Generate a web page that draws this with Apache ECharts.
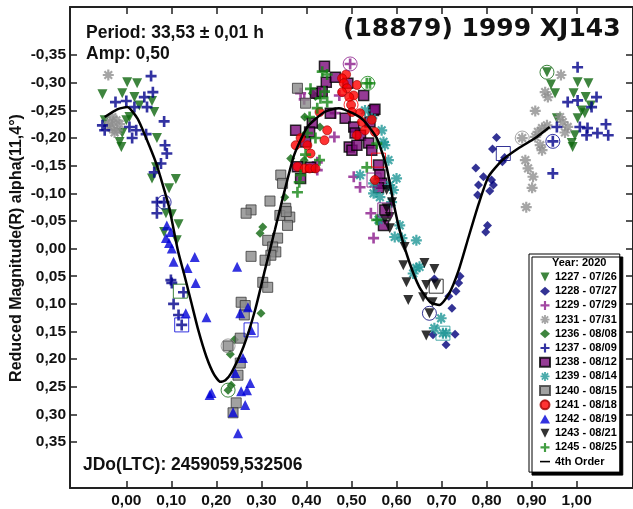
<!DOCTYPE html>
<html>
<head>
<meta charset="utf-8">
<title>(18879) 1999 XJ143</title>
<script src="https://cdn.jsdelivr.net/npm/echarts@6/dist/echarts.min.js"></script>
<style>
html,body{margin:0;padding:0;background:#fff;}
#chart{width:633px;height:509px;}
</style>
</head>
<body>
<div id="chart"></div>
<script>
// phase, reduced magnitude
var s1227 = [[-0.053,-0.279],[0.002,-0.301],[0.024,-0.299],[-0.009,-0.281],[0.018,-0.274],[0.029,-0.259],[0.057,-0.267],[0.062,-0.247],[0.007,-0.238],[0.0,-0.232],[-0.048,-0.232],[-0.009,-0.209],[-0.015,-0.193],[-0.011,-0.184],[0.068,-0.2],[0.066,-0.147],[0.057,-0.127],[0.11,-0.126],[0.095,-0.109],[0.088,-0.064],[0.101,-0.062],[0.116,-0.044],[0.084,-0.03],[0.112,-0.015],
  [0.934,-0.319],[0.943,-0.297],[0.952,-0.281],[1.002,-0.301],[1.026,-0.299],[0.993,-0.281],[1.02,-0.274],[1.031,-0.259],[1.011,-0.25],[1.018,-0.245],[1.002,-0.236],[0.956,-0.236],[0.996,-0.205],[0.989,-0.191],[0.991,-0.184]];
var s1228 = [[0.822,-0.201],[0.813,-0.18],[0.84,-0.165],[0.835,-0.157],[0.776,-0.146],[0.793,-0.13],[0.811,-0.124],[0.782,-0.115],[0.815,-0.115],[0.807,-0.104],[0.78,-0.097],[0.802,-0.042],[0.798,-0.03],[0.741,0.05],[0.684,0.055],[0.738,0.062],[0.732,0.077],[0.716,0.086],[0.723,0.108],[0.73,0.155],[0.71,0.174],[0.681,0.156]];
var s1229 = [[0.387,-0.281],[0.497,-0.334],[0.464,-0.245],[0.473,-0.277],[0.462,-0.202],[0.424,-0.156],[0.424,-0.142],[0.505,-0.13],[0.519,-0.111],[0.549,-0.019],[0.543,-0.064],[0.395,-0.27]];
var s1231 = [[-0.04,-0.314],[-0.031,-0.238],[-0.037,-0.229],[-0.022,-0.232],[-0.031,-0.218],[-0.02,-0.214],[-0.04,-0.222],[-0.026,-0.21],[-0.015,-0.225],
  [0.965,-0.314],[0.93,-0.283],[0.936,-0.274],[0.908,-0.249],[0.934,-0.223],[0.923,-0.218],[0.914,-0.211],[0.908,-0.202],[0.879,-0.2],[0.919,-0.187],[0.923,-0.178],[0.963,-0.238],[0.969,-0.229],[0.98,-0.22],[0.974,-0.21],[0.886,-0.16],[0.892,-0.145],[0.903,-0.13],[0.901,-0.11],[0.888,-0.075]];
var s1236 = [[0.297,-0.028],[0.303,-0.039],[0.352,-0.093],[0.365,-0.163],[0.413,-0.281],[0.396,-0.238],[0.299,0.117],[0.24,0.165],[0.231,0.191],[0.233,0.247],[0.226,0.256],[0.42,-0.275],[0.43,-0.22],[0.395,-0.16]];
var s1237 = [[0.055,-0.312],[0.059,-0.283],[0.04,-0.274],[-0.024,-0.265],[0.0,-0.267],[0.018,-0.256],[0.046,-0.256],[0.084,-0.23],[-0.053,-0.223],[-0.048,-0.214],[0.007,-0.22],[0.022,-0.214],[0.013,-0.2],[0.044,-0.207],[0.086,-0.187],[0.09,-0.172],[0.077,-0.154],[0.062,-0.138],[0.068,-0.084],[0.084,-0.084],[0.068,-0.064],[0.099,0.057],[0.101,0.062],[0.127,0.079],[0.105,0.1],[0.116,0.12],[0.123,0.138],
  [1.002,-0.328],[0.98,-0.265],[1.002,-0.268],[1.044,-0.274],[1.033,-0.256],[0.956,-0.22],[1.007,-0.22],[1.024,-0.218],[1.046,-0.209],[1.022,-0.205],[0.947,-0.194],[0.947,-0.136],[1.07,-0.205],[1.065,-0.225]];
var s1238 = [[0.44,-0.33],[0.444,-0.301],[0.464,-0.31],[0.492,-0.299],[0.42,-0.281],[0.435,-0.284],[0.527,-0.277],[0.453,-0.245],[0.486,-0.236],[0.413,-0.227],[0.376,-0.214],[0.407,-0.211],[0.505,-0.22],[0.549,-0.25],[0.495,-0.184],[0.501,-0.178],[0.398,-0.193],[0.387,-0.127],[0.38,-0.148],[0.409,-0.147],[0.552,-0.252],[0.541,-0.229],[0.508,-0.209],[0.52,-0.205],[0.512,-0.187],[0.538,-0.191],[0.545,-0.178],[0.56,-0.151],[0.563,-0.133],[0.567,-0.118],[0.574,-0.07],[0.56,-0.11],[0.571,-0.042]];
var s1239 = [[0.53,-0.25],[0.545,-0.236],[0.567,-0.214],[0.571,-0.193],[0.582,-0.16],[0.519,-0.133],[0.549,-0.118],[0.549,-0.1],[0.563,-0.093],[0.593,-0.106],[0.6,-0.127],[0.589,-0.084],[0.56,-0.052],[0.607,-0.042],[0.596,-0.021],[0.644,-0.015],[0.574,-0.187],[0.585,-0.115],[0.612,-0.019],[0.644,0.035],[0.651,0.033],[0.637,0.045],[0.699,0.126],[0.684,0.144],[0.703,0.153],[0.71,0.153]];
var s1240 = [[0.277,-0.07],[0.266,-0.064],[0.319,-0.086],[0.354,-0.073],[0.341,-0.06],[0.363,-0.057],[0.358,-0.042],[0.355,-0.067],[0.277,0.014],[0.314,-0.015],[0.336,-0.019],[0.325,-0.003],[0.332,0.006],[0.321,0.012],[0.308,0.021],[0.303,0.061],[0.314,0.07],[0.255,0.097],[0.264,0.103],[0.262,0.12],[0.253,0.162],[0.226,0.176],[0.253,0.207],[0.248,0.229],[0.244,0.279],[0.237,0.297],[0.38,-0.29],[0.398,-0.263],[0.343,-0.133],[0.347,-0.118]];
var s1241 = [[0.488,-0.315],[0.479,-0.308],[0.483,-0.299],[0.512,-0.296],[0.49,-0.29],[0.479,-0.283],[0.505,-0.277],[0.495,-0.274],[0.499,-0.26],[0.501,-0.247],[0.519,-0.245],[0.429,-0.247],[0.523,-0.229],[0.446,-0.214],[0.387,-0.2],[0.44,-0.196],[0.376,-0.187],[0.402,-0.187],[0.409,-0.172],[0.38,-0.148],[0.396,-0.145],[0.407,-0.145],[0.42,-0.145],[0.512,-0.205],[0.53,-0.214],[0.545,-0.233],[0.552,-0.211],[0.552,-0.124]];
var s1242 = [[0.09,-0.042],[0.099,-0.03],[0.088,-0.019],[0.095,-0.01],[0.101,0.0],[0.105,0.024],[0.136,0.035],[0.152,0.015],[0.154,0.062],[0.132,0.117],[0.178,0.124],[0.246,0.033],[0.27,0.106],[0.253,0.117],[0.277,0.147],[0.259,0.198],[0.242,0.225],[0.189,0.261],[0.185,0.265],[0.255,0.258],[0.268,0.256],[0.275,0.243],[0.264,0.283],[0.237,0.296],[0.248,0.334]];
var s1243 = [[0.578,-0.106],[0.59,-0.084],[0.578,-0.073],[0.585,-0.057],[0.574,-0.052],[0.585,-0.037],[0.618,-0.003],[0.615,0.03],[0.662,0.026],[0.684,0.037],[0.622,0.061],[0.666,0.066],[0.688,0.066],[0.659,0.088],[0.68,0.097],[0.626,0.093],[0.673,0.117],[0.666,0.157]];
var s1245 = [[0.446,-0.315],[0.435,-0.32],[0.409,-0.289],[0.44,-0.284],[0.431,-0.272],[0.446,-0.265],[0.424,-0.254],[0.407,-0.238],[0.402,-0.209],[0.42,-0.2],[0.429,-0.16],[0.398,-0.17],[0.387,-0.133],[0.384,-0.12],[0.38,-0.102],[0.534,-0.299],[0.541,-0.299],[0.556,-0.19],[0.534,-0.147],[0.556,-0.052]];

// 4th order fit, traced
var curve4th = [[-0.048,-0.238],[-0.02,-0.252],[0.002,-0.256],[0.025,-0.235],[0.044,-0.2],[0.066,-0.155],[0.08,-0.118],[0.095,-0.075],[0.105,-0.035],[0.115,0.005],[0.128,0.045],[0.143,0.093],[0.16,0.148],[0.178,0.196],[0.195,0.228],[0.209,0.241],[0.22,0.238],[0.233,0.225],[0.26,0.178],[0.286,0.111],[0.308,0.038],[0.33,-0.034],[0.35,-0.1],[0.373,-0.17],[0.402,-0.22],[0.44,-0.247],[0.472,-0.254],[0.505,-0.244],[0.527,-0.232],[0.556,-0.2],[0.578,-0.147],[0.592,-0.088],[0.607,-0.033],[0.629,0.026],[0.651,0.07],[0.675,0.097],[0.695,0.102],[0.717,0.081],[0.738,0.039],[0.76,-0.021],[0.782,-0.08],[0.804,-0.13],[0.835,-0.16],[0.87,-0.181],[0.908,-0.2],[0.94,-0.22]];

// open markers drawn round single points
var circleRings = [[0.084,-0.084,'1237'],[0.226,0.176,'1240'],[0.226,0.256,'1236'],[0.497,-0.334,'1229'],[0.536,-0.299,'1245'],[0.499,-0.26,'1241'],[0.673,0.117,'1228'],[0.879,-0.2,'1231'],[0.947,-0.194,'1237'],[0.934,-0.319,'1227']];
var squareRings = [[0.12,0.077,'1236'],[0.123,0.138,'1242'],[0.277,0.147,'1242'],[0.56,-0.16,'1241'],[0.55,-0.124,'1238'],[0.574,-0.07,'1238'],[0.688,0.068,'1243'],[0.703,0.153,'1239'],[0.837,-0.172,'1228']];

var xTicks = [0, 0.1, 0.2, 0.3, 0.4, 0.5, 0.6, 0.7, 0.8, 0.9, 1.0];
var yTicks = [-0.35, -0.3, -0.25, -0.2, -0.15, -0.1, -0.05, 0, 0.05, 0.1, 0.15, 0.2, 0.25, 0.3, 0.35];

var names = {
  '1227': '1227 - 07/26', '1228': '1228 - 07/27', '1229': '1229 - 07/29', '1231': '1231 - 07/31',
  '1236': '1236 - 08/08', '1237': '1237 - 08/09', '1238': '1238 - 08/12', '1239': '1239 - 08/14',
  '1240': '1240 - 08/15', '1241': '1241 - 08/18', '1242': '1242 - 08/19', '1243': '1243 - 08/21',
  '1245': '1245 - 08/25'
};
var fitName = '4th Order';

var colors = {
  '1227': '#0e660e', '1228': '#00007a', '1229': '#8b1a8b', '1231': '#8e8e8e',
  '1236': '#0e660e', '1237': '#00008b', '1238': '#7a0a7a', '1239': '#1e9696',
  '1240': '#8a8a8a', '1241': '#ff0000', '1242': '#0000d8', '1243': '#000000',
  '1245': '#148614'
};

var plusPath = 'path://M-1.2,-5L1.2,-5L1.2,-1.2L5,-1.2L5,1.2L1.2,1.2L1.2,5L-1.2,5L-1.2,1.2L-5,1.2L-5,-1.2L-1.2,-1.2Z';
var starPath = 'path://M-5,-1L5,-1L5,1L-5,1Z M-1,-5L1,-5L1,5L-1,5Z M-4.2,-2.8L-2.8,-4.2L4.2,2.8L2.8,4.2Z M2.8,-4.2L4.2,-2.8L-2.8,4.2L-4.2,2.8Z';
var downPath = 'path://M0,0L10,0L5,10Z';
var dashPath = 'path://M0,0L14,0L14,2.2L0,2.2Z';

function fmt(v) {
  return v.toFixed(2).replace('.', ',');
}

function pts(key, data, symbol, size, extra) {
  var s = {
    name: names[key],
    type: 'scatter',
    data: data,
    symbol: symbol,
    symbolSize: size,
    itemStyle: { color: colors[key] }
  };
  if (extra) {
    for (var k in extra) s[k] = extra[k];
  }
  return s;
}

function rings(list, symbol, size) {
  return {
    name: 'ring-' + symbol,
    type: 'scatter',
    symbol: symbol,
    symbolSize: size,
    silent: true,
    data: list.map(function (r) {
      return { value: [r[0], r[1]], itemStyle: { color: 'rgba(0,0,0,0)', borderColor: colors[r[2]], borderWidth: 1 } };
    })
  };
}

var tickLine = { color: '#222', width: 1.5 };
var labelFont = { fontFamily: 'Liberation Sans', fontWeight: 'bold', fontSize: 15.5, color: '#111' };

function xAx(pos) {
  return {
    type: 'value', position: pos, min: -0.125, max: 1.125,
    axisLine: { show: true, onZero: false, lineStyle: { color: '#222', width: 2 } },
    axisTick: { inside: true, length: 7, customValues: xTicks, lineStyle: tickLine },
    axisLabel: pos == 'bottom' ? Object.assign({ customValues: xTicks, margin: 5, formatter: fmt }, labelFont) : { show: false },
    splitLine: { show: false }
  };
}
function yAx(pos) {
  return {
    type: 'value', position: pos, inverse: true, min: -0.437, max: 0.433,
    axisLine: { show: true, onZero: false, lineStyle: { color: '#222', width: 2 } },
    axisTick: { inside: true, length: 7, customValues: yTicks, lineStyle: tickLine },
    axisLabel: pos == 'left' ? Object.assign({ customValues: yTicks, margin: 4, formatter: fmt }, labelFont) : { show: false },
    splitLine: { show: false }
  };
}

var series = [
  pts('1227', s1227, 'triangle', 10, { symbolRotate: 180 }),
  pts('1228', s1228, 'diamond', 9),
  pts('1229', s1229, plusPath, 11),
  pts('1231', s1231, starPath, 11),
  pts('1236', s1236, 'diamond', 9),
  pts('1237', s1237, plusPath, 11),
  pts('1238', s1238, 'rect', 10, { itemStyle: { color: colors['1238'], borderColor: '#000', borderWidth: 1.5 } }),
  pts('1239', s1239, starPath, 11),
  pts('1240', s1240, 'rect', 10, { itemStyle: { color: colors['1240'], borderColor: '#3a3a3a', borderWidth: 1 } }),
  pts('1241', s1241, 'circle', 9, { itemStyle: { color: colors['1241'], borderColor: '#a00000', borderWidth: 0.8 } }),
  pts('1242', s1242, 'triangle', 10),
  pts('1243', s1243, 'triangle', 10, { symbolRotate: 180 }),
  pts('1245', s1245, plusPath, 11),
  rings(circleRings, 'circle', 14),
  rings(squareRings, 'rect', 14),
  {
    name: fitName,
    type: 'line',
    data: curve4th,
    smooth: 0.2,
    symbol: 'none',
    lineStyle: { color: '#000', width: 2.5 },
    itemStyle: { color: '#000' }
  }
];

// legend entries; down triangles and the fit line need their own icons
var legendData = [];
for (var key in names) {
  var item = { name: names[key] };
  if (key == '1227' || key == '1243') item.icon = downPath;
  legendData.push(item);
}
legendData.push({ name: fitName, icon: dashPath });

var chart = echarts.init(document.getElementById('chart'), null, { renderer: 'canvas' });
chart.setOption({
  animation: false,
  backgroundColor: '#fff',
  grid: { left: 70, top: 7, width: 569, height: 481 },
  xAxis: [xAx('bottom'), xAx('top')],
  yAxis: [yAx('left'), yAx('right')],
  legend: {
    data: legendData,
    orient: 'vertical',
    left: 529,
    top: 254,
    padding: [17.5, 3, 5, 10],
    itemWidth: 10,
    itemHeight: 9,
    itemGap: 3.2,
    selectedMode: false,
    backgroundColor: '#fff',
    borderColor: '#000',
    borderWidth: 1,
    borderRadius: 0,
    shadowColor: '#000',
    shadowBlur: 0,
    shadowOffsetX: 3,
    shadowOffsetY: 3,
    textStyle: { fontFamily: 'Liberation Sans', fontWeight: 'bold', fontSize: 11, color: '#000' }
  },
  graphic: [
    { type: 'text', x: 86, y: 33, z: 100, style: { text: 'Period: 33,53 ± 0,01 h', font: 'bold 17.5px "Liberation Sans"', fill: '#111', verticalAlign: 'middle' } },
    { type: 'text', x: 86, y: 54, z: 100, style: { text: 'Amp: 0,50', font: 'bold 17.5px "Liberation Sans"', fill: '#111', verticalAlign: 'middle' } },
    { type: 'text', x: 343, y: 29, z: 100, style: { text: '(18879) 1999 XJ143', font: 'bold 25px "DejaVu Sans"', fill: '#111', verticalAlign: 'middle' } },
    { type: 'text', x: 83, y: 465, z: 100, style: { text: 'JDo(LTC): 2459059,532506', font: 'bold 17.5px "Liberation Sans"', fill: '#111', verticalAlign: 'middle' } },
    { type: 'text', x: 17, y: 248, rotation: Math.PI / 2, z: 100, style: { text: 'Reduced Magnitude(R) alpha(11,4°)', font: 'bold 16px "Liberation Sans"', fill: '#111', align: 'center', verticalAlign: 'middle' } },
    { type: 'text', x: 552, y: 263, z: 100, style: { text: 'Year: 2020', font: 'bold 11px "Liberation Sans"', fill: '#000', verticalAlign: 'middle' } }
  ],
  series: series
});
</script>
</body>
</html>
